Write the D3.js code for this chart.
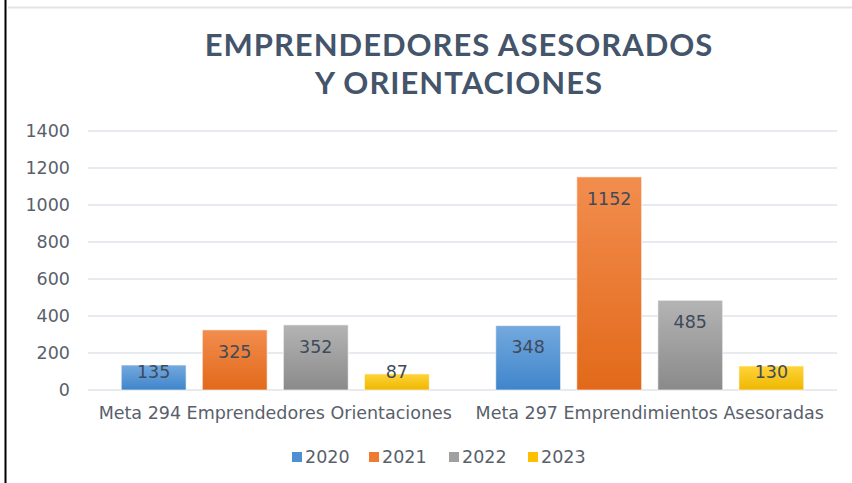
<!DOCTYPE html>
<html>
<head>
<meta charset="utf-8">
<script src="https://cdn.jsdelivr.net/npm/d3@7"></script>
<style>
  body { margin: 0; background: #fff; }
  svg { display: block; }
</style>
</head>
<body>
<div id="container"></div>
<script>
const categories = ["Meta 294 Emprendedores Orientaciones", "Meta 297 Emprendimientos Asesoradas"]
const years = ["2020", "2021", "2022", "2023"]
const values = {
    "2020": [135, 348],
    "2021": [325, 1152],
    "2022": [352, 485],
    "2023": [87, 130]
}
const yTicks = [0, 200, 400, 600, 800, 1000, 1200, 1400]
const titleLines = ["EMPRENDEDORES ASESORADOS", "Y ORIENTACIONES"]

// colours: [top of gradient, bottom of gradient, legend swatch]
const colors = {
    "2020": ["#74a9de", "#3f85cb", "#4f8fd3"],
    "2021": ["#f28d4e", "#e2691a", "#ee7b2f"],
    "2022": ["#b4b4b4", "#8a8a8a", "#a0a0a0"],
    "2023": ["#ffd43a", "#eeb700", "#fcc000"]
}

const W = 852, H = 483
const margin = { top: 131, right: 15, bottom: 93, left: 88 }
const width = W - margin.left - margin.right
const height = H - margin.top - margin.bottom
const textColor = "#595f6b"
const fontFam = "'DejaVu Sans', sans-serif"

const svg = d3.select("#container").append("svg")
    .attr("width", W)
    .attr("height", H)

// frame lines of the original screenshot
svg.append("line").attr("x1", 8).attr("x2", W).attr("y1", 7.5).attr("y2", 7.5)
    .attr("stroke", "#e1e4e8").attr("stroke-width", 2)
svg.append("line").attr("x1", 5.5).attr("x2", 5.5).attr("y1", 0).attr("y2", H)
    .attr("stroke", "#000").attr("stroke-width", 2)

// title, one text per line
svg.append("g")
    .selectAll("text")
    .data(titleLines)
    .enter()
    .append("text")
    .attr("x", 459)
    .attr("y", (d, i) => 56 + i * 38)
    .attr("text-anchor", "middle")
    .style("font-family", "Lato, sans-serif")
    .style("font-weight", "bold")
    .style("font-size", "31px")
    .style("letter-spacing", "1px")
    .attr("fill", "#44546a")
    .text(d => d)

const defs = svg.append("defs")
years.forEach(y => {
    const g = defs.append("linearGradient")
        .attr("id", "grad" + y)
        .attr("x1", 0).attr("x2", 0).attr("y1", 0).attr("y2", 1)
    g.append("stop").attr("offset", "0%").attr("stop-color", colors[y][0])
    g.append("stop").attr("offset", "100%").attr("stop-color", colors[y][1])
})

const chart = svg.append("g")
    .attr("transform", "translate(" + margin.left + "," + margin.top + ")")

const x0 = d3.scaleBand()
    .domain(categories)
    .range([0, width])

const x1 = d3.scaleBand()
    .domain(years)
    .range([0, 308])
    .paddingInner(0.2)

const yScale = d3.scaleLinear()
    .domain([0, 1400])
    .range([height, 0])

// gridlines
chart.append("g")
    .selectAll("line")
    .data(yTicks)
    .enter()
    .append("line")
    .attr("x1", 0)
    .attr("x2", width)
    .attr("y1", d => yScale(d))
    .attr("y2", d => yScale(d))
    .attr("stroke", "#dfe3e8")
    .attr("stroke-width", 1.5)

// y tick labels
chart.append("g")
    .selectAll("text")
    .data(yTicks)
    .enter()
    .append("text")
    .attr("x", -18)
    .attr("y", d => yScale(d))
    .attr("dy", "0.36em")
    .attr("text-anchor", "end")
    .style("font-family", fontFam)
    .style("font-size", "17.5px")
    .attr("fill", textColor)
    .text(d => d)

// x category labels
chart.append("g")
    .selectAll("text")
    .data(categories)
    .enter()
    .append("text")
    .attr("x", d => x0(d) + x0.bandwidth() / 2)
    .attr("y", height + 29)
    .attr("text-anchor", "middle")
    .style("font-family", fontFam)
    .style("font-size", "17.5px")
    .attr("fill", textColor)
    .text(d => d)

// bars
const groups = chart.selectAll(".group")
    .data(categories)
    .enter()
    .append("g")
    .attr("class", "group")
    .attr("transform", d => "translate(" + (x0(d) + (x0.bandwidth() - 308) / 2) + ",0)")

groups.selectAll("rect")
    .data((d, i) => years.map(y => ({ year: y, value: values[y][i] })))
    .enter()
    .append("rect")
    .attr("x", d => x1(d.year))
    .attr("y", d => yScale(d.value))
    .attr("width", x1.bandwidth())
    .attr("height", d => height - yScale(d.value))
    .attr("fill", d => "url(#grad" + d.year + ")")
    .attr("stroke", "#ffffff")
    .attr("stroke-opacity", 0.6)
    .attr("stroke-width", 1)

// value labels just inside the top; short bars keep label above the axis
groups.selectAll(".val")
    .data((d, i) => years.map(y => ({ year: y, value: values[y][i] })))
    .enter()
    .append("text")
    .attr("class", "val")
    .attr("x", d => x1(d.year) + x1.bandwidth() / 2)
    .attr("y", d => Math.min(yScale(d.value) + 15, height - 25))
    .attr("dy", "0.73em")
    .attr("text-anchor", "middle")
    .style("font-family", fontFam)
    .style("font-size", "17.5px")
    .attr("fill", "#3f4a5a")
    .text(d => d.value)

// legend
const legendX = [292, 369, 449, 528]
const legend = svg.append("g")
    .selectAll("g")
    .data(years)
    .enter()
    .append("g")
    .attr("transform", (d, i) => "translate(" + legendX[i] + ",457)")

legend.append("rect")
    .attr("x", 0)
    .attr("y", -5)
    .attr("width", 10)
    .attr("height", 10)
    .attr("fill", d => colors[d][2])

legend.append("text")
    .attr("x", 13)
    .attr("y", 0)
    .attr("dy", "0.36em")
    .style("font-family", fontFam)
    .style("font-size", "17.5px")
    .attr("fill", textColor)
    .text(d => d)
</script>
</body>
</html>
